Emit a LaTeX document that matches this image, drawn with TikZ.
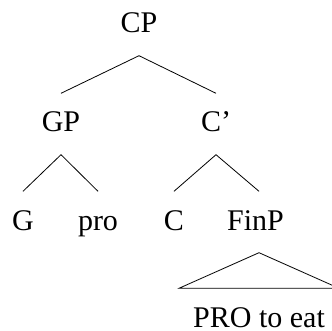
\documentclass[tikz,border=0pt]{standalone}
\usepackage{fontspec}
\setmainfont{Liberation Serif}
\begin{document}
\begin{tikzpicture}[x=1pt,y=-1pt,
  cat/.style={anchor=base,font=\fontsize{30}{36}\selectfont,
    text height=20pt,text depth=4pt,inner xsep=0pt,inner ysep=18.5pt},
  branch/.style={line width=0.8pt,line join=miter}]
\useasboundingbox (0,0) rectangle (332,331);
\clip (0,0) rectangle (332,331);
% labels, placed on their baselines
\node[cat] (CP)   at (139,33)   {CP};
\node[cat] (GP)   at (61,132)   {GP};
\node[cat] (Cbar) at (216,132)  {C’};
\node[cat] (G)    at (23,230)   {G};
\node[cat] (pro)  at (98,230)   {pro};
\node[cat] (C)    at (174,230)  {C};
\node[cat] (FinP) at (255.5,230) {FinP};
\node[cat,inner xsep=14pt] (PRO) at (259,327) {PRO to eat};
% branches
\draw[branch] (GP.north) -- (CP.south) -- (Cbar.north);
\draw[branch] (G.north) -- (GP.south) -- (pro.north);
\draw[branch] (C.north) -- (Cbar.south) -- (FinP.north -| PRO.north);
% roof over the unanalysed constituent
\draw[branch] (FinP.south -| PRO.north) -- (PRO.north west) -- (PRO.north east) -- cycle;
\end{tikzpicture}
\end{document}
